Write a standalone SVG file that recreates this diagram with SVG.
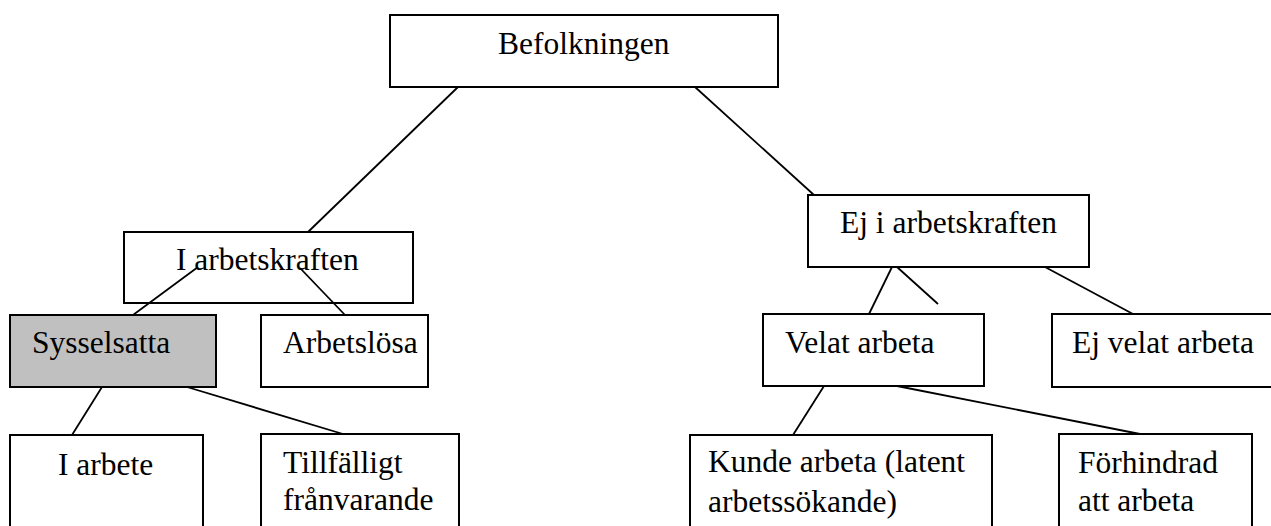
<svg xmlns="http://www.w3.org/2000/svg" width="1271" height="526" viewBox="0 0 1271 526">
<style>
.box{fill:#fff;stroke:#000;stroke-width:2}
.gray{fill:#c0c0c0}
.t{font-family:'Liberation Serif','Times New Roman',Times,serif;font-size:31.5px;fill:#000}
.conn line{stroke:#000;stroke-width:1.8}
</style>
<rect width="1271" height="526" fill="#fff"/>
<g class="t" font-family="Liberation Serif, Times New Roman, serif">
<g id="befolkningen"><rect class="box" x="390" y="15" width="388" height="72"/><text x="498" y="54">Befolkningen</text></g>
<g id="i-arbetskraften"><rect class="box" x="124" y="232" width="289" height="71"/><text x="176" y="270">I arbetskraften</text></g>
<g id="ej-i-arbetskraften"><rect class="box" x="808" y="195" width="281" height="72"/><text x="840" y="233">Ej i arbetskraften</text></g>
<g id="sysselsatta"><rect class="box gray" x="10" y="315" width="206" height="72"/><text x="32" y="353">Sysselsatta</text></g>
<g id="arbetslosa"><rect class="box" x="261" y="315" width="167" height="72"/><text x="283" y="353">Arbetslösa</text></g>
<g id="velat-arbeta"><rect class="box" x="763" y="314" width="221" height="72"/><text x="785" y="353">Velat arbeta</text></g>
<g id="ej-velat-arbeta"><rect class="box" x="1052" y="314" width="230" height="73"/><text x="1072" y="353">Ej velat arbeta</text></g>
<g id="i-arbete"><rect class="box" x="10" y="435" width="193" height="100"/><text x="58" y="475">I arbete</text></g>
<g id="tillfalligt"><rect class="box" x="261" y="434" width="198" height="100"/><text x="283" y="473">Tillfälligt</text><text x="283" y="510">frånvarande</text></g>
<g id="kunde-arbeta"><rect class="box" x="690" y="435" width="302" height="100"/><text x="708" y="472">Kunde arbeta (latent</text><text x="708" y="512">arbetssökande)</text></g>
<g id="forhindrad"><rect class="box" x="1059" y="434" width="193" height="100"/><text x="1078" y="473">Förhindrad</text><text x="1078" y="511">att arbeta</text></g>
</g>
<g id="connectors" class="conn">
<line x1="458" y1="87" x2="308" y2="232"/>
<line x1="695" y1="87" x2="814" y2="195"/>
<line x1="198" y1="267" x2="133" y2="315"/>
<line x1="300" y1="268" x2="345" y2="315"/>
<line x1="892" y1="267" x2="869" y2="314"/>
<line x1="897" y1="267" x2="938" y2="304"/>
<line x1="1045" y1="267" x2="1133" y2="314"/>
<line x1="102" y1="387" x2="72" y2="435"/>
<line x1="187" y1="387" x2="343" y2="434"/>
<line x1="824" y1="386" x2="793" y2="435"/>
<line x1="897" y1="386" x2="1140" y2="434"/>
</g>
</svg>
